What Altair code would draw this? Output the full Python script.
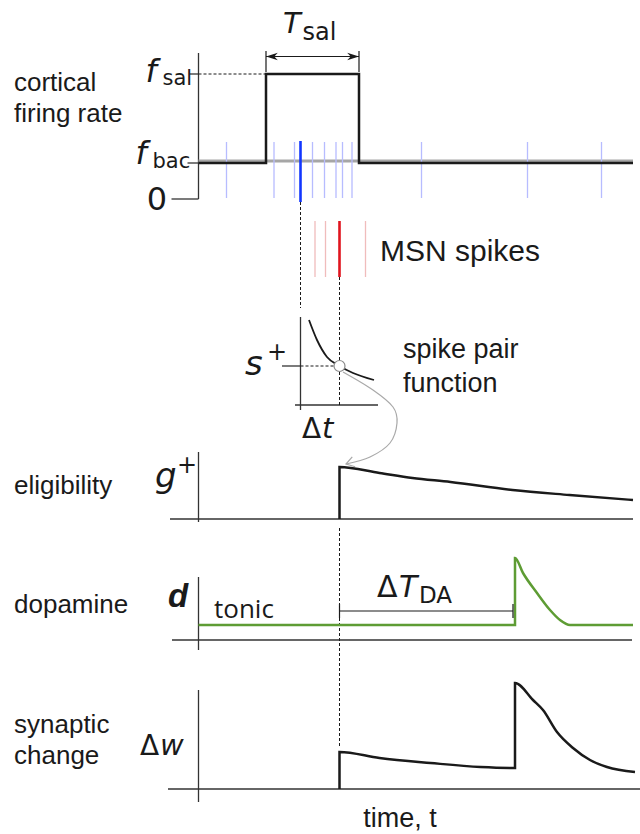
import altair as alt
import pandas as pd

W, H = 640, 834
X0 = 198.5  # pixel column of t = 0, where every vertical axis sits

# ---- time landmarks ----
T_ON, T_OFF, T_END = 67.5, 160.5, 434.5   # salient input window
T_PRE, T_POST, T_DA = 102, 141, 316.5      # paired spikes, dopamine burst

# ---- panel baselines (figure y, measured downward) ----
Y_CTX, Y_MSN, Y_INSET, Y_ELIG, Y_DA, Y_DW = 199, 277, 405, 519, 640, 789

# ---- cortical firing rate ----
F_BAC, F_SAL = 36, 125
rate_t = [0, T_ON, T_ON, T_OFF, T_OFF, T_END]
rate_v = [F_BAC, F_BAC, F_SAL, F_SAL, F_BAC, F_BAC]

ctx_spikes = [28, 75.5, 96, 114, 126, 137.5, 144, 153.5, 223, 329, 403]
msn_spikes = [116.5, 127, 167]

# ---- spike pair function: s+ against the delay dt ----
spf_dt = [8.5, 16.5, 26.5, 39, 52.5, 73.5]
spf_s = [85, 65, 48, 39, 32, 25]
S_PAIR = 39

# ---- eligibility trace g+ ----
elig_t = [T_POST, T_POST, 181, 214, 252, 314, 371, 434.5]
elig_v = [0, 52, 46, 41, 37, 29, 24, 19]

# ---- dopamine d (tonic level then phasic burst) ----
da_t = [0, T_DA, T_DA, 324.5, 338.5, 351.5, 361.5, 371.5, 434.5]
da_v = [15, 15, 82, 67, 47, 30, 20, 15, 15]

# ---- synaptic change dw ----
dw_t = [T_POST, T_POST, 181, 232, 282, T_DA, T_DA, 334.5, 344.5, 358.5, 374.5, 391.5, 408.5, 436.5]
dw_v = [0, 37, 31, 26, 22, 21, 106, 89, 79, 57, 41, 29, 22, 17]

# ---- curved link from the spike pair function to g+ ----
link_t = [144.5, 174.5, 194.5, 198.5, 191.5, 171.5, 147.5]
link_y = [372, 390, 407, 423, 443, 457, 464]

# ---- text ----
row_labels = ["cortical", "firing rate", "eligibility", "dopamine", "synaptic", "change"]
row_label_y = [91, 122, 494, 613, 733, 764]
msn_label = "MSN spikes"
spf_label = ["spike pair", "function"]
tonic_label = "tonic"
time_label = "time, t"

INK = "#1a1a1a"
AXIS = "#333333"
GREEN = "#5e9c34"

xs = alt.Scale(domain=[-X0, W - X0], nice=False, zero=False)
ys = alt.Scale(domain=[0, H], nice=False, zero=False, reverse=True)


def X(f):
    return alt.X(f"{f}:Q", scale=xs, axis=None)


def Y(f):
    return alt.Y(f"{f}:Q", scale=ys, axis=None)


def rules(segs, color, width, dash=None):
    df = pd.DataFrame(segs, columns=["t", "y", "t2", "y2"])
    kw = dict(color=color, strokeWidth=width)
    if dash:
        kw["strokeDash"] = dash
    return alt.Chart(df).mark_rule(**kw).encode(
        x=X("t"), y=Y("y"), x2=alt.X2("t2"), y2=alt.Y2("y2"))


def trace(t, v, base, color, width, interp="linear"):
    df = pd.DataFrame({"t": t, "y": [base - a for a in v], "i": range(len(t))})
    return alt.Chart(df).mark_line(
        color=color, strokeWidth=width, interpolate=interp, strokeJoin="miter"
    ).encode(x=X("t"), y=Y("y"), order="i:Q")


def texts(rows, font, size, style="normal", weight="normal", align="left", color=INK):
    df = pd.DataFrame(rows, columns=["label", "t", "y"])
    return alt.Chart(df).mark_text(
        font=font, fontSize=size, fontStyle=style, fontWeight=weight,
        align=align, baseline="alphabetic", color=color
    ).encode(x=X("t"), y=Y("y"), text="label:N")


y_sal = Y_CTX - F_SAL
y_bac = Y_CTX - F_BAC
y_pair = Y_INSET - S_PAIR

axes = rules([
    (0, 53, 0, Y_CTX),
    (-9, y_sal, 0, y_sal),
    (-11, y_bac, 0, y_bac),
    (-27, Y_CTX, 0, Y_CTX),
    (T_PRE, 317, T_PRE, 410),
    (96.5, Y_INSET, 179.5, Y_INSET),
    (83.5, y_pair, T_PRE, y_pair),
    (0, 452, 0, 522),
    (-28.5, Y_ELIG, 434.5, Y_ELIG),
    (0, 577, 0, 650),
    (-26.5, Y_DA, 433.5, Y_DA),
    (0, 690, 0, 802),
    (-30.5, Y_DW, 441.5, Y_DW),
], AXIS, 1.3)

guides = rules([
    (0, y_sal, T_ON, y_sal),
    (T_PRE, 202, T_PRE, 308),
    (T_POST, Y_MSN, T_POST, Y_INSET),
    (T_PRE, y_pair, T_POST, y_pair),
    (T_POST, 528, T_POST, 748),
], INK, 1, dash=[3, 2])

bac_band = rules([(0, Y_CTX - F_BAC - 2, T_END, Y_CTX - F_BAC - 2)], "#a6a6a6", 3)

ctx_light = rules([(t, Y_CTX - 57, t, Y_CTX - 1) for t in ctx_spikes], "#b7bcff", 1.3)
ctx_hi = rules([(T_PRE, Y_CTX - 58, T_PRE, Y_CTX + 3)], "#1236ff", 2.6)
msn_light = rules([(t, Y_MSN - 56, t, Y_MSN) for t in msn_spikes], "#f0bcbc", 1.3)
msn_hi = rules([(T_POST, Y_MSN - 56, T_POST, Y_MSN)], "#e0141e", 2.6)

rate = trace(rate_t, rate_v, Y_CTX, INK, 2.5)
elig = trace(elig_t, elig_v, Y_ELIG, INK, 2.5, "monotone")
da = trace(da_t, da_v, Y_DA, GREEN, 2.5, "monotone")
dw = trace(dw_t, dw_v, Y_DW, INK, 2.5, "monotone")
spf = trace([T_PRE + d for d in spf_dt], spf_s, Y_INSET, INK, 1.8, "monotone")

link_df = pd.DataFrame({"t": link_t, "y": link_y, "i": range(len(link_t))})
link = alt.Chart(link_df).mark_line(color="#a9a9a9", strokeWidth=1.2, interpolate="cardinal").encode(
    x=X("t"), y=Y("y"), order="i:Q")

# T_sal span arrow and the dopamine delay bracket
span = rules([
    (T_ON, 56.5, T_OFF, 56.5),
    (T_ON, 51, T_ON, 72),
    (T_OFF, 51, T_OFF, 72),
], INK, 1.2)
bracket = rules([
    (T_POST, 611, T_DA - 2, 611),
    (T_POST, 604, T_POST, 618),
    (T_DA - 2, 604, T_DA - 2, 618),
], INK, 1.2)

STEALTH = "M0,0L-1,-0.32L-0.7,0L-1,0.32Z"
heads = alt.Chart(pd.DataFrame({"t": [T_ON, T_OFF], "y": [56.5, 56.5], "a": [180, 0]})).mark_point(
    shape=STEALTH, size=560, filled=True, color=INK, opacity=1
).encode(x=X("t"), y=Y("y"), angle=alt.Angle("a:Q", scale=None))

CHEVRON = "M-1,-0.65L0,0L-1,0.65"
link_head = alt.Chart(pd.DataFrame({"t": [link_t[-1]], "y": [link_y[-1]], "a": [164]})).mark_point(
    shape=CHEVRON, size=256, filled=False, color="#a9a9a9", strokeWidth=1.2, opacity=1
).encode(x=X("t"), y=Y("y"), angle=alt.Angle("a:Q", scale=None))

pair_dot = alt.Chart(pd.DataFrame({"t": [T_POST], "y": [y_pair]})).mark_point(
    shape="circle", size=121, filled=True, fill="white", stroke="#8a8a8a", strokeWidth=1.2, opacity=1
).encode(x=X("t"), y=Y("y"))

SANS = "Liberation Sans"
MATH = "DejaVu Sans"
LX = 14 - X0

labels = [
    texts([(s, LX, y) for s, y in zip(row_labels, row_label_y)], SANS, 26),
    texts([(msn_label, 181.5, 261)], SANS, 30),
    texts([(spf_label[0], 204.5, 358), (spf_label[1], 204.5, 392)], SANS, 27),
    texts([(tonic_label, 15.5, 618)], "Open Sans", 26),
    texts([(time_label, 201.5, 827)], SANS, 27, align="center"),
    # italic symbols
    texts([("T", 84.5, 33), ("t", 123.5, 438), ("w", -38.5, 755)], MATH, 29, style="italic"),
    texts([("f", -53, 82), ("f", -63, 164)], MATH, 32, style="italic"),
    texts([("T", 200.5, 597)], MATH, 30, style="italic"),
    texts([("s", 46.5, 375), ("g", -43.5, 487)], MATH, 34, style="italic"),
    texts([("d", -30.5, 607)], SANS, 33, style="italic", weight="bold"),
    # upright pieces
    texts([("sal", 104, 40)], MATH, 24),
    texts([("sal", -36, 85), ("bac", -46, 168)], MATH, 21),
    texts([("0", -41.5, 210)], MATH, 32, align="center"),
    texts([("+", 68.5, 360), ("+", -21.5, 473)], MATH, 24),
    texts([("Δ", 103.5, 438), ("Δ", -58.5, 755)], MATH, 28),
    texts([("Δ", 178.5, 597)], MATH, 30),
    texts([("DA", 220.5, 603)], MATH, 23),
]

chart = alt.layer(
    axes, bac_band, ctx_light, msn_light, guides, rate, ctx_hi, msn_hi,
    spf, link, link_head, pair_dot, elig, da, dw, span, heads, bracket, *labels
).properties(
    width=W, height=H, padding=0, autosize="none"
).configure_view(stroke=None)

chart.save("out.html", embed_options={"renderer": "svg", "actions": False})
